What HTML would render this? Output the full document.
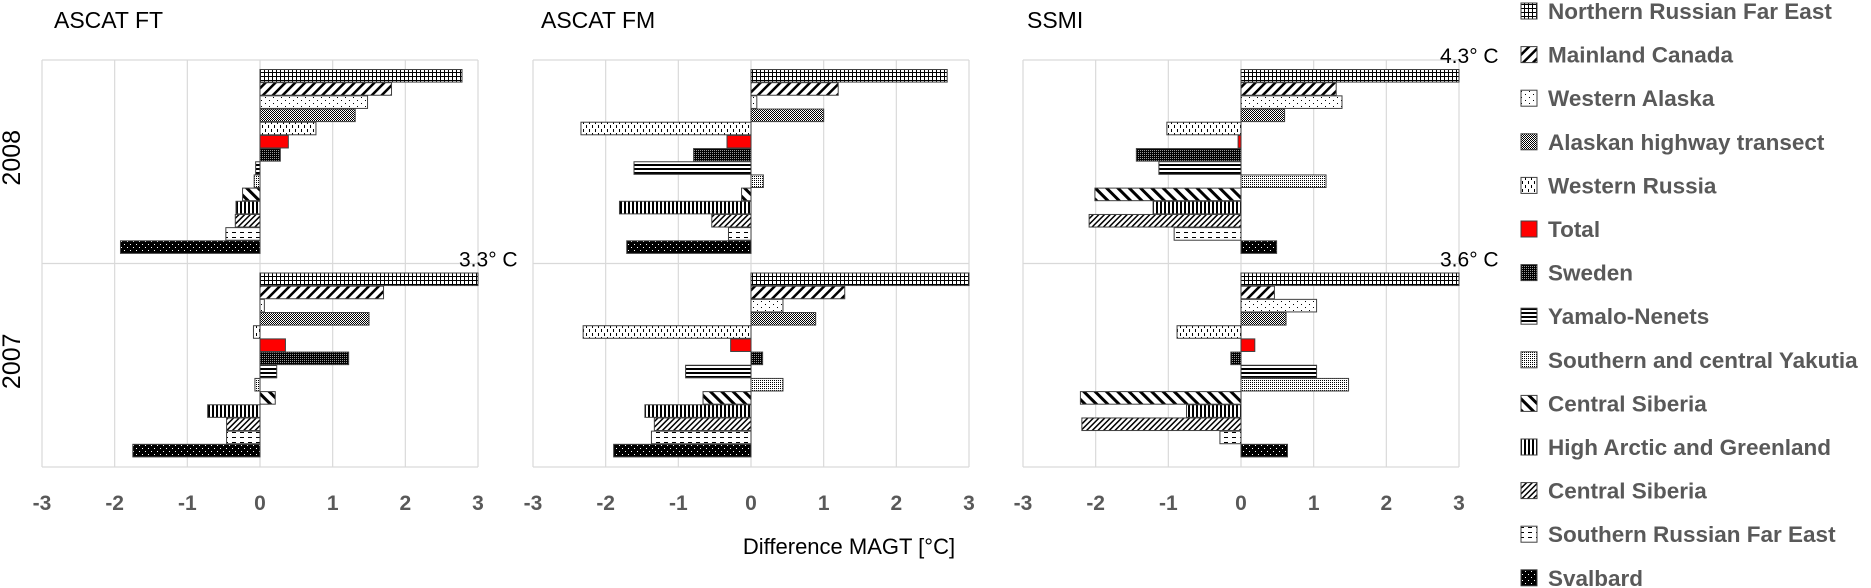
<!DOCTYPE html>
<html><head><meta charset="utf-8"><style>
html,body{margin:0;padding:0;background:#fff;}
svg{display:block;font-family:"Liberation Sans",sans-serif;}
</style></head><body>
<svg id="chart" width="1871" height="588" viewBox="0 0 1871 588" xmlns="http://www.w3.org/2000/svg">
<defs>
<pattern id="p0" width="4" height="4" patternUnits="userSpaceOnUse"><rect width="4" height="4" fill="#fff"/><path d="M0 0.5H4M0.5 0V4" stroke="#000" stroke-width="1"/></pattern>
<pattern id="p1" width="7" height="7" patternUnits="userSpaceOnUse" patternTransform="rotate(45)"><rect width="7" height="7" fill="#fff"/><rect width="2.5" height="7" fill="#000"/></pattern>
<pattern id="p2" width="8" height="6" patternUnits="userSpaceOnUse"><rect width="8" height="6" fill="#fff"/><rect x="1" y="1" width="1" height="1" fill="#000"/><rect x="5" y="4" width="1" height="1" fill="#000"/></pattern>
<pattern id="p3" width="2" height="2" patternUnits="userSpaceOnUse"><rect width="2" height="2" fill="#fff"/><rect width="1" height="1" fill="#000"/><rect x="1" y="1" width="1" height="1" fill="#000"/></pattern>
<pattern id="p4" width="6" height="8" patternUnits="userSpaceOnUse"><rect width="6" height="8" fill="#fff"/><rect x="1" y="1" width="1" height="3" fill="#000"/><rect x="4" y="5" width="1" height="3" fill="#000"/></pattern>
<pattern id="p6" width="2" height="2" patternUnits="userSpaceOnUse"><rect width="2" height="2" fill="#000"/><rect width="1" height="1" fill="#fff" opacity="0.6"/></pattern>
<pattern id="p7" width="4" height="4" patternUnits="userSpaceOnUse"><rect width="4" height="4" fill="#fff"/><rect width="4" height="2" fill="#000"/></pattern>
<pattern id="p8" width="2" height="2" patternUnits="userSpaceOnUse"><rect width="2" height="2" fill="#fff"/><rect width="1" height="1" fill="#000"/></pattern>
<pattern id="p9" width="8" height="8" patternUnits="userSpaceOnUse" patternTransform="rotate(-45)"><rect width="8" height="8" fill="#fff"/><rect width="3" height="8" fill="#000"/></pattern>
<pattern id="p10" width="4" height="4" patternUnits="userSpaceOnUse"><rect width="4" height="4" fill="#fff"/><rect width="2" height="4" fill="#000"/></pattern>
<pattern id="p11" width="4" height="4" patternUnits="userSpaceOnUse" patternTransform="rotate(45)"><rect width="4" height="4" fill="#fff"/><rect width="1.5" height="4" fill="#000"/></pattern>
<pattern id="p12" width="8" height="5" patternUnits="userSpaceOnUse"><rect width="8" height="5" fill="#fff"/><rect x="0" y="2" width="4" height="1" fill="#000"/></pattern>
<pattern id="p13" width="6" height="6" patternUnits="userSpaceOnUse"><rect width="6" height="6" fill="#000"/><rect x="1" y="1" width="1" height="1" fill="#fff"/><rect x="4" y="4" width="1" height="1" fill="#fff"/></pattern>
</defs>
<g id="plots"></g>
<g id="legend"></g>
</svg>
<script>
const categories = ["Northern Russian Far East","Mainland Canada","Western Alaska","Alaskan highway transect","Western Russia","Total","Sweden","Yamalo-Nenets","Southern and central Yakutia","Central Siberia","High Arctic and Greenland","Central Siberia","Southern Russian Far East","Svalbard"];
const panelTitles = ["ASCAT FT","ASCAT FM","SSMI"];
const years = ["2008","2007"];
const ticks = [-3,-2,-1,0,1,2,3];
const ft2008 = [2.78,1.81,1.48,1.31,0.77,0.39,0.28,-0.06,-0.08,-0.24,-0.33,-0.34,-0.47,-1.92];
const ft2007 = [3.3,1.70,0.06,1.50,-0.09,0.35,1.22,0.23,-0.07,0.21,-0.72,-0.46,-0.46,-1.75];
const fm2008 = [2.70,1.20,0.08,1.00,-2.34,-0.33,-0.79,-1.61,0.17,-0.13,-1.81,-0.54,-0.31,-1.71];
const fm2007 = [3.0,1.29,0.44,0.89,-2.31,-0.28,0.16,-0.90,0.44,-0.66,-1.46,-1.33,-1.37,-1.89];
const ssmi2008 = [4.3,1.31,1.39,0.60,-1.02,-0.04,-1.44,-1.13,1.17,-2.01,-1.21,-2.09,-0.92,0.49];
const ssmi2007 = [3.6,0.46,1.04,0.62,-0.88,0.19,-0.14,1.04,1.48,-2.21,-0.75,-2.19,-0.29,0.64];
const overflowLabels = [["", "3.3° C"],["",""],["4.3° C","3.6° C"]];

const fills = ["url(#p0)","url(#p1)","url(#p2)","url(#p3)","url(#p4)","#ff0000","url(#p6)","url(#p7)","url(#p8)","url(#p9)","url(#p10)","url(#p11)","url(#p12)","url(#p13)"];
const NS = "http://www.w3.org/2000/svg";
const panelData = [[ft2008,ft2007],[fm2008,fm2007],[ssmi2008,ssmi2007]];
const panelLeft = [42,533,1023];
const titleX = [54,541,1027];
const PW = 436, TOP = 60, BOT = 467, GH = (BOT-TOP)/2;
const plots = document.getElementById('plots');
function mk(tag, attrs, parent){const e=document.createElementNS(NS,tag);for(const k in attrs)e.setAttribute(k,attrs[k]);parent.appendChild(e);return e;}

panelTitles.forEach((t,pi)=>{
  const L = panelLeft[pi];
  const xs = v => L + (Math.max(-3,Math.min(3,v))+3)/6*PW;
  const g = mk('g',{},plots);
  
  
  const title = mk('text',{x:titleX[pi],y:28,'font-size':23,fill:'#000'},g);
  title.textContent = t;
  
  
  ticks.forEach(tv=>{
    const gl = mk('line',{x1:xs(tv),x2:xs(tv),y1:TOP,y2:BOT,stroke:'#d9d9d9','stroke-width':1.2},g);
    
    
    const tl = mk('text',{x:xs(tv),y:510,'font-size':21,'font-weight':'bold',fill:'#595959','text-anchor':'middle'},g);
    tl.textContent = tv;
    
    
  });
  [TOP,TOP+GH,BOT].forEach(y=>{
    const hl = mk('line',{x1:L,x2:L+PW,y1:y,y2:y,stroke:'#d9d9d9','stroke-width':1.2},g);
    
    
  });
  years.forEach((yr,yi)=>{
    const vals = panelData[pi][yi];
    const gTop = TOP + yi*GH;
    const pitch = (GH-19)/categories.length;
    vals.forEach((v,ci)=>{
      const x0 = xs(0), x1 = xs(v);
      const r = mk('rect',{x:Math.min(x0,x1),y:gTop+9.5+ci*pitch,width:Math.max(1,Math.abs(x1-x0)),height:pitch-0.6,fill:fills[ci],stroke:'#404040','stroke-width':1},g);
      
      
    });
    const lab = overflowLabels[pi][yi];
    if(lab){
      const a = mk('text',{x:L+PW-19,y:gTop+3,'font-size':21,fill:'#000'},g);
      a.textContent = lab;
      
      
    }
  });
});
years.forEach((yr,yi)=>{
  const cy = TOP + yi*GH + GH/2 - 4;
  const t = mk('text',{x:0,y:0,'font-size':25,fill:'#000','text-anchor':'middle',transform:`translate(20,${cy}) rotate(-90)`},plots);
  t.textContent = yr;
  
  
});
const xt = mk('text',{x:849,y:554,'font-size':22,fill:'#000','text-anchor':'middle'},plots);
xt.textContent = 'Difference MAGT [°C]';



const leg = document.getElementById('legend');


categories.forEach((c,i)=>{
  const cy = 11 + i*43.6;
  const g = mk('g',{},leg);
  
  
  mk('rect',{x:1521,y:cy-8,width:16,height:16,fill:fills[i],stroke:'#404040','stroke-width':1},g);
  const t = mk('text',{x:1548,y:cy+8,'font-size':22.5,'font-weight':'bold',fill:'#595959'},g);
  t.textContent = c;
});
</script>
</body></html>
